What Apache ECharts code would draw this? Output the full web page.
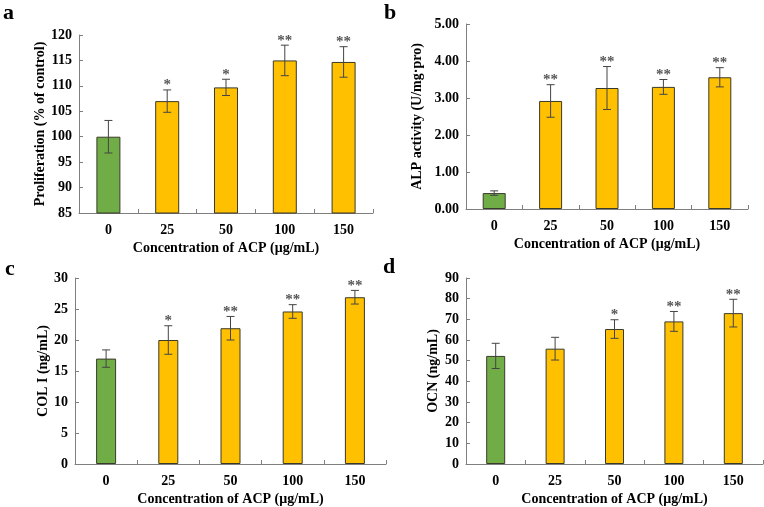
<!DOCTYPE html>
<html><head><meta charset="utf-8">
<script src="https://cdn.jsdelivr.net/npm/echarts@6/dist/echarts.min.js"></script>
<style>html,body{margin:0;padding:0;background:#fff}#c{width:764px;height:507px}</style>
</head><body><div id="c"></div>
<script>
const categories = ['0', '25', '50', '100', '150'];

const prolifMean = [100, 107, 109.7, 115, 114.7];
const prolifErr  = [3.2, 2.2, 1.6, 3.0, 3.0];
const prolifSig  = ['', '*', '*', '**', '**'];

const alpMean = [0.43, 2.92, 3.27, 3.30, 3.56];
const alpErr  = [0.06, 0.44, 0.58, 0.20, 0.26];
const alpSig  = ['', '**', '**', '**', '**'];

const colMean = [17.0, 20.0, 21.9, 24.6, 26.9];
const colErr  = [1.4, 2.3, 1.9, 1.1, 1.1];
const colSig  = ['', '*', '**', '**', '**'];

const ocnMean = [52.3, 55.8, 65.3, 69.0, 73.0];
const ocnErr  = [6.1, 5.5, 4.5, 4.8, 6.7];
const ocnSig  = ['', '', '*', '**', '**'];

const yTitles = ['Proliferation (% of control)', 'ALP activity (U/mg·pro)', 'COL I (ng/mL)', 'OCN (ng/mL)'];
const xTitle = 'Concentration of ACP (μg/mL)';
const panelLetters = ['a', 'b', 'c', 'd'];

const panels = [
  {mean: prolifMean, err: prolifErr, sig: prolifSig, min: 85, max: 120, interval: 5, dec: 0,
   grid: {left: 79, top: 35, width: 294, height: 178}, barWidth: 24, nameGap: 29, letter: [3, 2]},
  {mean: alpMean, err: alpErr, sig: alpSig, min: 0, max: 5, interval: 1, dec: 2,
   grid: {left: 466, top: 24, width: 282, height: 185}, barWidth: 23, nameGap: 42, letter: [384, 2]},
  {mean: colMean, err: colErr, sig: colSig, min: 0, max: 30, interval: 5, dec: 0,
   grid: {left: 75, top: 278, width: 311, height: 187}, barWidth: 20, nameGap: 22, letter: [5, 258]},
  {mean: ocnMean, err: ocnErr, sig: ocnSig, min: 0, max: 90, interval: 10, dec: 0,
   grid: {left: 466, top: 278, width: 297, height: 189}, barWidth: 19, nameGap: 26, letter: [383, 256]}
];

const FONT = '"Liberation Serif", "Times New Roman", serif';
const barColors = ['#70AD47', '#FFC000', '#FFC000', '#FFC000', '#FFC000'];

const option = {
  backgroundColor: '#fff',
  animation: false,
  grid: [], xAxis: [], yAxis: [], series: [], graphic: []
};

panels.forEach((p, i) => {
  option.grid.push(Object.assign({containLabel: false}, p.grid));
  option.xAxis.push({
    type: 'category', gridIndex: i, data: categories,
    axisLine: {lineStyle: {color: '#7f7f7f', width: 1}},
    axisTick: {show: true, inside: true, length: 4, lineStyle: {color: '#7f7f7f'}},
    axisLabel: {color: '#000', fontFamily: FONT, fontWeight: 'bold', fontSize: 14, margin: 10},
    name: xTitle, nameLocation: 'middle', nameGap: 28,
    nameTextStyle: {color: '#000', fontFamily: FONT, fontWeight: 'bold', fontSize: 14}
  });
  option.yAxis.push({
    type: 'value', gridIndex: i, min: p.min, max: p.max, interval: p.interval,
    splitLine: {show: false},
    axisLine: {show: true, lineStyle: {color: '#7f7f7f', width: 1}},
    axisTick: {show: true, inside: true, length: 4, lineStyle: {color: '#7f7f7f'}},
    axisLabel: {color: '#000', fontFamily: FONT, fontWeight: 'bold', fontSize: 14, margin: 7,
      formatter: v => Number(v).toFixed(p.dec)},
    name: yTitles[i], nameLocation: 'middle', nameGap: p.nameGap,
    nameTextStyle: {color: '#000', fontFamily: FONT, fontWeight: 'bold', fontSize: 14}
  });
  option.series.push({
    type: 'bar', xAxisIndex: i, yAxisIndex: i, barWidth: p.barWidth,
    data: p.mean.map((v, k) => ({value: v, itemStyle: {color: barColors[k]}})),
    itemStyle: {borderColor: '#3a3a2a', borderWidth: 1},
    z: 2
  });
  option.series.push({
    type: 'custom', xAxisIndex: i, yAxisIndex: i, z: 5,
    data: p.mean.map((v, k) => [k, v - p.err[k], v + p.err[k], p.sig[k]]),
    encode: {x: 0, y: [1, 2]},
    renderItem: (params, api) => {
      const x = api.value(0);
      const lo = api.coord([x, api.value(1)]);
      const hi = api.coord([x, api.value(2)]);
      const cap = 4;
      const stroke = {stroke: '#444', lineWidth: 1};
      const ch = [
        {type: 'line', shape: {x1: lo[0], y1: lo[1], x2: hi[0], y2: hi[1]}, style: stroke},
        {type: 'line', shape: {x1: lo[0] - cap, y1: lo[1], x2: lo[0] + cap, y2: lo[1]}, style: stroke},
        {type: 'line', shape: {x1: hi[0] - cap, y1: hi[1], x2: hi[0] + cap, y2: hi[1]}, style: stroke}
      ];
      const s = p.sig[params.dataIndex];
      if (s) {
        ch.push({type: 'text', style: {text: s, x: hi[0], y: hi[1] + 3, align: 'center', verticalAlign: 'bottom',
          fill: '#555', font: 'bold 15px ' + FONT}});
      }
      return {type: 'group', children: ch};
    }
  });
  option.graphic.push({
    type: 'text', left: p.letter[0], top: p.letter[1],
    style: {text: panelLetters[i], fill: '#000', font: 'bold 22px ' + FONT}
  });
});

const chart = echarts.init(document.getElementById('c'), null, {renderer: 'canvas'});
chart.setOption(option);
</script></body></html>
